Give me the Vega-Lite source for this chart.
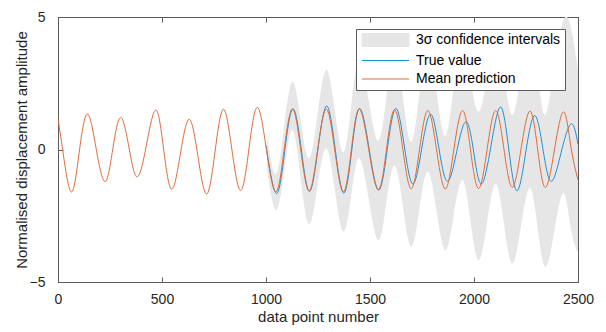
{
  "$schema": "https://vega.github.io/schema/vega-lite/v6.json",
  "width": 520,
  "height": 265,
  "autosize": {"type": "none"},
  "padding": {"left": 58, "top": 17, "right": 28, "bottom": 50},
  "background": "white",
  "config": {
    "view": {"stroke": "#5a5a5a", "strokeWidth": 1},
    "font": "Liberation Sans"
  },
  "datasets": {
    "band": [
      {"x": 1005, "lo": -0.75, "hi": 0.55},
      {"x": 1047, "lo": -2.28, "hi": -0.92},
      {"x": 1087, "lo": -0.88, "hi": 0.85},
      {"x": 1127, "lo": 0.73, "hi": 2.56},
      {"x": 1167, "lo": -1.12, "hi": 1.1},
      {"x": 1207, "lo": -2.82, "hi": -0.33},
      {"x": 1248, "lo": -1.37, "hi": 1.33},
      {"x": 1290, "lo": 0.05, "hi": 3.0},
      {"x": 1331, "lo": -1.54, "hi": 1.46},
      {"x": 1372, "lo": -3.1, "hi": -0.1},
      {"x": 1410, "lo": -1.73, "hi": 1.67},
      {"x": 1448, "lo": -0.33, "hi": 3.38},
      {"x": 1494, "lo": -1.87, "hi": 1.85},
      {"x": 1540, "lo": -3.42, "hi": 0.33},
      {"x": 1579, "lo": -2.0, "hi": 1.98},
      {"x": 1618, "lo": -0.6, "hi": 3.6},
      {"x": 1658, "lo": -2.12, "hi": 2.0},
      {"x": 1698, "lo": -3.67, "hi": 0.3},
      {"x": 1738, "lo": -2.22, "hi": 2.1},
      {"x": 1778, "lo": -0.84, "hi": 3.77},
      {"x": 1820, "lo": -2.32, "hi": 2.2},
      {"x": 1862, "lo": -3.8, "hi": 0.5},
      {"x": 1903, "lo": -2.45, "hi": 2.4},
      {"x": 1945, "lo": -1.15, "hi": 4.09},
      {"x": 1983, "lo": -2.7, "hi": 2.7},
      {"x": 2022, "lo": -4.17, "hi": 1.43},
      {"x": 2063, "lo": -2.75, "hi": 2.75},
      {"x": 2104, "lo": -1.28, "hi": 4.22},
      {"x": 2144, "lo": -2.8, "hi": 2.8},
      {"x": 2184, "lo": -4.3, "hi": 1.3},
      {"x": 2226, "lo": -2.88, "hi": 2.85},
      {"x": 2269, "lo": -1.45, "hi": 4.35},
      {"x": 2306, "lo": -2.95, "hi": 2.9},
      {"x": 2343, "lo": -4.43, "hi": 1.3},
      {"x": 2387, "lo": -3.05, "hi": 3.2},
      {"x": 2431, "lo": -1.65, "hi": 4.9},
      {"x": 2466, "lo": -3.0, "hi": 4.6},
      {"x": 2500, "lo": -3.9, "hi": 3.0}
    ],
    "truth": [
      {"x": 1000, "y": 0.15},
      {"x": 1050, "y": -1.66},
      {"x": 1090, "y": -0.05},
      {"x": 1130, "y": 1.53},
      {"x": 1170, "y": -0.02},
      {"x": 1209, "y": -1.58},
      {"x": 1250, "y": 0.03},
      {"x": 1292, "y": 1.64},
      {"x": 1333, "y": 0.0},
      {"x": 1374, "y": -1.64},
      {"x": 1412, "y": -0.05},
      {"x": 1450, "y": 1.55},
      {"x": 1496, "y": 0.01},
      {"x": 1542, "y": -1.53},
      {"x": 1583, "y": 0.01},
      {"x": 1624, "y": 1.55},
      {"x": 1665, "y": 0.12},
      {"x": 1706, "y": -1.3},
      {"x": 1748, "y": 0.01},
      {"x": 1791, "y": 1.33},
      {"x": 1831, "y": 0.06},
      {"x": 1872, "y": -1.2},
      {"x": 1917, "y": -0.07},
      {"x": 1962, "y": 1.05},
      {"x": 1999, "y": -0.12},
      {"x": 2036, "y": -1.3},
      {"x": 2082, "y": 0.15},
      {"x": 2128, "y": 1.6},
      {"x": 2167, "y": 0.02},
      {"x": 2206, "y": -1.56},
      {"x": 2248, "y": -0.14},
      {"x": 2291, "y": 1.28},
      {"x": 2331, "y": 0.04},
      {"x": 2371, "y": -1.2},
      {"x": 2419, "y": -0.11},
      {"x": 2467, "y": 0.97},
      {"x": 2500, "y": 0.2}
    ],
    "mean": [
      {"x": 0, "y": 1.15},
      {"x": 24, "y": -0.1},
      {"x": 64, "y": -1.6},
      {"x": 102, "y": -0.1},
      {"x": 141, "y": 1.34},
      {"x": 183, "y": 0.05},
      {"x": 226, "y": -1.21},
      {"x": 263, "y": 0.0},
      {"x": 301, "y": 1.21},
      {"x": 341, "y": 0.08},
      {"x": 381, "y": -1.03},
      {"x": 426, "y": 0.2},
      {"x": 471, "y": 1.49},
      {"x": 508, "y": 0.0},
      {"x": 546, "y": -1.5},
      {"x": 588, "y": -0.18},
      {"x": 631, "y": 1.14},
      {"x": 673, "y": -0.27},
      {"x": 715, "y": -1.68},
      {"x": 755, "y": -0.08},
      {"x": 795, "y": 1.52},
      {"x": 836, "y": 0.0},
      {"x": 878, "y": -1.55},
      {"x": 918, "y": 0.02},
      {"x": 958, "y": 1.59},
      {"x": 1002, "y": 0.0},
      {"x": 1047, "y": -1.6},
      {"x": 1087, "y": -0.03},
      {"x": 1127, "y": 1.53},
      {"x": 1167, "y": -0.01},
      {"x": 1207, "y": -1.56},
      {"x": 1248, "y": -0.02},
      {"x": 1290, "y": 1.52},
      {"x": 1331, "y": -0.04},
      {"x": 1372, "y": -1.6},
      {"x": 1410, "y": -0.03},
      {"x": 1448, "y": 1.53},
      {"x": 1494, "y": 0.0},
      {"x": 1540, "y": -1.52},
      {"x": 1579, "y": -0.01},
      {"x": 1618, "y": 1.5},
      {"x": 1658, "y": 0.01},
      {"x": 1698, "y": -1.48},
      {"x": 1738, "y": 0.0},
      {"x": 1778, "y": 1.47},
      {"x": 1820, "y": -0.01},
      {"x": 1862, "y": -1.49},
      {"x": 1903, "y": -0.01},
      {"x": 1945, "y": 1.47},
      {"x": 1983, "y": 0.0},
      {"x": 2022, "y": -1.47},
      {"x": 2063, "y": 0.0},
      {"x": 2104, "y": 1.47},
      {"x": 2144, "y": 0.02},
      {"x": 2184, "y": -1.43},
      {"x": 2226, "y": 0.01},
      {"x": 2269, "y": 1.45},
      {"x": 2306, "y": 0.01},
      {"x": 2343, "y": -1.43},
      {"x": 2387, "y": 0.0},
      {"x": 2431, "y": 1.42},
      {"x": 2466, "y": 0.1},
      {"x": 2500, "y": -1.15}
    ]
  },
  "layer": [
    {
      "data": {"name": "band"},
      "mark": {"type": "area", "interpolate": "natural", "clip": true, "opacity": 1},
      "encoding": {
        "x": {
          "field": "x", "type": "quantitative",
          "scale": {"domain": [0, 2500], "nice": false, "zero": false},
          "axis": {
            "orient": "bottom", "values": [0, 500, 1000, 1500, 2000, 2500], "format": "d",
            "labelFlush": false, "labelOverlap": false,
            "grid": false, "domainColor": "#5a5a5a", "tickColor": "#5a5a5a", "tickSize": -5,
            "labelFontSize": 14, "labelColor": "#262626", "labelPadding": 15, "labelFont": "Liberation Sans",
            "title": "data point number", "titleFontSize": 15, "titleFontWeight": "normal",
            "titleColor": "#262626", "titlePadding": 3, "titleFont": "Liberation Sans"
          }
        },
        "y": {
          "field": "lo", "type": "quantitative",
          "scale": {"domain": [-5, 5], "nice": false, "zero": false},
          "axis": {
            "orient": "left", "values": [-5, 0, 5], "format": "d",
            "labelFlush": false, "labelOverlap": false,
            "grid": false, "domainColor": "#5a5a5a", "tickColor": "#5a5a5a", "tickSize": -5,
            "labelFontSize": 14, "labelColor": "#262626", "labelPadding": 18, "labelFont": "Liberation Sans",
            "title": "Normalised displacement amplitude", "titleFontSize": 15, "titleFontWeight": "normal",
            "titleColor": "#262626", "titlePadding": 0, "titleFont": "Liberation Sans"
          }
        },
        "y2": {"field": "hi"},
        "color": {
          "datum": "3σ confidence intervals",
          "type": "nominal",
          "scale": {
            "domain": ["3σ confidence intervals", "True value", "Mean prediction"],
            "range": ["#e6e6e6", "#1f8fd2", "#df6a3a"]
          },
          "legend": {
            "title": null,
            "orient": "none",
            "legendX": 298,
            "legendY": 12,
            "direction": "vertical",
            "fillColor": "white",
            "strokeColor": "#5a5a5a",
            "padding": 4,
            "rowPadding": 4.5,
            "symbolSize": 100,
            "symbolStrokeWidth": 1,
            "symbolOpacity": 1,
            "labelFontSize": 14,
            "labelColor": "#000000",
            "labelFont": "Liberation Sans",
            "labelOffset": 42,
            "encode": {
              "symbols": {
                "update": {
                  "shape": {"signal": "datum.value === '3σ confidence intervals' ? 'M-1,-1.3H8.4V1.3H-1Z' : 'M-1,0H8.4'"},
                  "fill": {"signal": "datum.value === '3σ confidence intervals' ? '#e6e6e6' : 'transparent'"},
                  "stroke": {"signal": "datum.value === '3σ confidence intervals' ? 'transparent' : (datum.value === 'True value' ? '#1f8fd2' : '#df6a3a')"},
                  "strokeWidth": {"value": 1},
                  "opacity": {"value": 1}
                }
              }
            }
          }
        }
      }
    },
    {
      "data": {"name": "truth"},
      "mark": {"type": "line", "interpolate": "natural", "clip": true, "strokeWidth": 1},
      "encoding": {
        "x": {
          "field": "x", "type": "quantitative",
          "axis": {
            "orient": "top", "values": [0, 500, 1000, 1500, 2000, 2500], "labels": false, "title": null,
            "grid": false, "domainColor": "#5a5a5a", "tickColor": "#5a5a5a", "tickSize": -5
          }
        },
        "y": {
          "field": "y", "type": "quantitative",
          "axis": {
            "orient": "right", "values": [-5, 0, 5], "labels": false, "title": null,
            "grid": false, "domainColor": "#5a5a5a", "tickColor": "#5a5a5a", "tickSize": -5
          }
        },
        "color": {"datum": "True value", "type": "nominal"}
      }
    },
    {
      "data": {"name": "mean"},
      "mark": {"type": "line", "interpolate": "natural", "clip": true, "strokeWidth": 1},
      "encoding": {
        "x": {"field": "x", "type": "quantitative", "axis": null},
        "y": {"field": "y", "type": "quantitative", "axis": null},
        "color": {"datum": "Mean prediction", "type": "nominal"}
      }
    }
  ],
  "resolve": {"axis": {"x": "independent", "y": "independent"}}
}
